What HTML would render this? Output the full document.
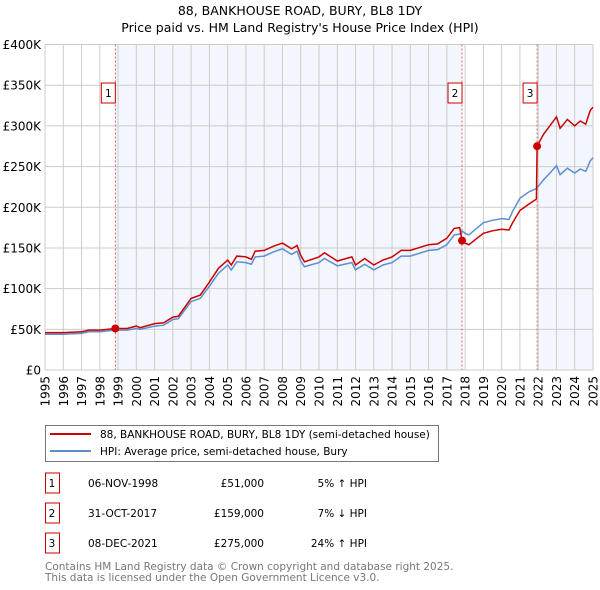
<!DOCTYPE html>
<html><head><meta charset="utf-8"><style>
body{margin:0;background:#fff;width:600px;height:590px;overflow:hidden;font-family:"DejaVu Sans","Liberation Sans",sans-serif;}
svg{display:block}
</style></head><body>
<svg id="chart" width="600" height="590" xmlns="http://www.w3.org/2000/svg" font-family="DejaVu Sans, Liberation Sans, sans-serif">
<text x="300" y="15" text-anchor="middle" font-size="12.5">88, BANKHOUSE ROAD, BURY, BL8 1DY</text>
<text x="300" y="32" text-anchor="middle" font-size="12.5">Price paid vs. HM Land Registry's House Price Index (HPI)</text>
<g id="plot"></g>
<g>
<rect x="45.5" y="425.5" width="393" height="36" fill="#fff" stroke="#777"/>
<line x1="50" y1="434" x2="91" y2="434" stroke="#cc0000" stroke-width="2"/>
<text x="100" y="438" font-size="10.5">88, BANKHOUSE ROAD, BURY, BL8 1DY (semi-detached house)</text>
<line x1="50" y1="451" x2="91" y2="451" stroke="#5b8fd0" stroke-width="2"/>
<text x="100" y="455" font-size="10.5">HPI: Average price, semi-detached house, Bury</text>
</g>
<g id="table" font-size="10.5"></g>
<text x="45" y="570" font-size="10.5" fill="#777">Contains HM Land Registry data © Crown copyright and database right 2025.</text>
<text x="45" y="581" font-size="10.5" fill="#777">This data is licensed under the Open Government Licence v3.0.</text>
</svg>
<script>
const years=[1995,1996,1997,1997.4,1998,1998.85,1999.5,2000,2000.2,2001,2001.5,2002,2002.3,2003,2003.5,2004,2004.5,2005,2005.2,2005.5,2006,2006.3,2006.5,2007,2007.5,2008,2008.5,2008.8,2009,2009.2,2010,2010.3,2011,2011.8,2012,2012.5,2013,2013.5,2014,2014.5,2015,2016,2016.5,2017,2017.4,2017.7,2017.83,2018,2018.2,2019,2019.5,2020,2020.4,2020.6,2021,2021.5,2021.9,2021.94,2022.3,2022.6,2023,2023.2,2023.6,2024,2024.3,2024.6,2024.85,2025];
const pricePaid=[46,46,47,49,49,51,51,54,52,57,58,65,66,88,92,108,125,135,129,140,139,136,146,147,152,156,149,153,141,133,139,144,134,139,129,137,129,135,139,147,147,154,155,162,174,175,159,156,154,168,171,173,172,181,196,204,210,275,290,299,311,297,308,300,306,302,319,323];
const hpi=[44,44,45,47,47,49,49,51,50,54,55,62,63,84,88,103,119,129,123,133,132,130,139,140,145,149,142,146,134,127,132,137,128,132,123,130,123,129,132,140,140,147,148,154,166,167,171,168,166,181,184,186,185,195,211,219,223,224,234,241,251,240,248,242,247,244,257,261];
const saleYears=[1998.85,2017.83,2021.94];
const salePrices=[51,159,275];
const saleLabels=["1","2","3"];
const saleDates=["06-NOV-1998","31-OCT-2017","08-DEC-2021"];
const salePriceText=["£51,000","£159,000","£275,000"];
const saleHpiText=["5% ↑ HPI","7% ↓ HPI","24% ↑ HPI"];
const yTicks=[0,50,100,150,200,250,300,350,400];
const yTickLabels=["£0","£50K","£100K","£150K","£200K","£250K","£300K","£350K","£400K"];
const xTicks=[];for(let y=1995;y<=2025;y++)xTicks.push(y);

const L=45,R=593,T=44.5,B=370;
const X=v=>L+(v-1995)/30*(R-L);
const Y=v=>B-v/400*(B-T);
const NS="http://www.w3.org/2000/svg";
const plot=document.getElementById('plot');
function mk(tag,attrs,parent){const e=document.createElementNS(NS,tag);for(const k in attrs)e.setAttribute(k,attrs[k]);(parent||plot).appendChild(e);return e;}

let r=mk('rect',{x:X(saleYears[0]),y:T,width:X(saleYears[1])-X(saleYears[0]),height:B-T,fill:'#f3f6fd'});


r=mk('rect',{x:X(saleYears[2]),y:T,width:R-X(saleYears[2]),height:B-T,fill:'#f3f6fd'});



xTicks.forEach(v=>{
 const g=mk('line',{x1:X(v),x2:X(v),y1:T,y2:B,stroke:'#cccccc','stroke-width':1});
 
 
 const t=mk('text',{x:0,y:0,'font-size':12,'text-anchor':'end',transform:`translate(${X(v)+4.5},${B+6}) rotate(-90)`});
 t.textContent=v;
 
 
});
yTicks.forEach((v,i)=>{
 const g=mk('line',{x1:L,x2:R,y1:Y(v),y2:Y(v),stroke:'#cccccc','stroke-width':1});
 
 
 const t=mk('text',{x:L-4,y:Y(v)+4.5,'font-size':12,'text-anchor':'end'});
 t.textContent=yTickLabels[i];
 
 
});
saleYears.forEach((v,i)=>{
 const l=mk('line',{x1:X(v),x2:X(v),y1:T,y2:B,stroke:'#e06060','stroke-width':1,'stroke-dasharray':'2,2'});
 
 
 const b=mk('rect',{x:X(v)-14,y:83,width:14,height:20,fill:'#fff',stroke:'#cc0000'});
 
 
 const t=mk('text',{x:X(v)-7,y:97,'font-size':10.5,'text-anchor':'middle'});
 t.textContent=saleLabels[i];
 
 
});
const pts=a=>a.map((v,i)=>X(years[i]).toFixed(1)+','+Y(v).toFixed(1)).join(' ');
let p=mk('polyline',{points:pts(hpi),fill:'none',stroke:'#5b8fd0','stroke-width':1.5});


p=mk('polyline',{points:pts(pricePaid),fill:'none',stroke:'#cc0000','stroke-width':1.5});


saleYears.forEach((v,i)=>{
 const c=mk('circle',{cx:X(v),cy:Y(salePrices[i]),r:4,fill:'#cc0000'});
 
 
});
const tb=document.getElementById('table');
saleYears.forEach((v,i)=>{
 const y=483+i*30;
 const b=mk('rect',{x:45.5,y:y-10,width:14,height:20,fill:'#fff',stroke:'#cc0000'},tb);
 
 
 const items=[[52,'middle',saleLabels[i],'table-row-number'],[88,'start',saleDates[i],'table-row-date'],[264,'end',salePriceText[i],'table-row-price'],[367,'end',saleHpiText[i],'table-row-hpi']];
 items.forEach(([x,a,s,n])=>{
  const t=mk('text',{x:x,y:y+4,'text-anchor':a},tb);
  t.textContent=s;
  
  
 });
});
</script>
</body></html>
